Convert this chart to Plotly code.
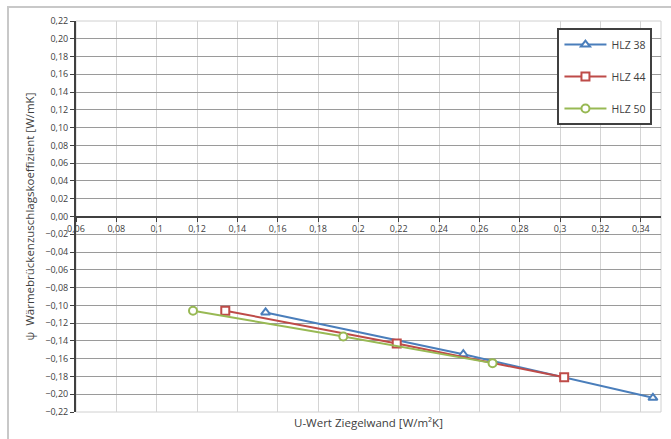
import plotly.graph_objects as go

series_names = ["HLZ 38", "HLZ 44", "HLZ 50"]
u_values = [
    [0.154, 0.252, 0.346],
    [0.134, 0.219, 0.302],
    [0.118, 0.1925, 0.2665],
]
psi_values = [
    [-0.108, -0.155, -0.204],
    [-0.106, -0.143, -0.181],
    [-0.106, -0.135, -0.165],
]
colors = ["#4a7ebb", "#be4b48", "#98b954"]
symbols = ["triangle-up", "square", "circle"]

x_tickvals = [0.06, 0.08, 0.10, 0.12, 0.14, 0.16, 0.18, 0.20, 0.22, 0.24, 0.26, 0.28, 0.30, 0.32, 0.34]
x_ticktext = ["0,06", "0,08", "0,1", "0,12", "0,14", "0,16", "0,18", "0,2", "0,22", "0,24", "0,26", "0,28", "0,3", "0,32", "0,34"]

fig = go.Figure()
for i, name in enumerate(series_names):
    fig.add_trace(go.Scatter(
        x=u_values[i], y=psi_values[i], name=name, mode="lines+markers",
        line=dict(color=colors[i], width=2),
        marker=dict(symbol=symbols[i], size=8, color="white",
                    line=dict(color=colors[i], width=2)),
        legendgroup=name,
    ))

fam = "Open Sans, Liberation Sans, sans-serif"
font = dict(family=fam, size=9, color="#404040")

fig.update_layout(
    width=671, height=439,
    margin=dict(l=76, r=10, t=21, b=27),
    paper_bgcolor="white", plot_bgcolor="white",
    separators=",.",
    font=font,
    showlegend=True,
    legend=dict(x=0.823, y=0.982, xanchor="left", yanchor="top",
                bordercolor="#404040", borderwidth=2, bgcolor="white",
                font=dict(family=fam, size=10.5, color="#404040"),
                tracegroupgap=13, itemwidth=42),
    xaxis=dict(range=[0.06, 0.35], tickvals=x_tickvals, ticktext=x_ticktext,
               showgrid=True, gridcolor="#d4d4d4", gridwidth=1,
               showline=True, linecolor="#404040", linewidth=2,
               anchor="free", position=0.5,
               ticks="outside", ticklen=4, tickcolor="#404040",
               zeroline=False, tickfont=font),
    yaxis=dict(range=[-0.22, 0.22], dtick=0.02, tick0=0, tickformat=".2f",
               showgrid=True, gridcolor="#9a9a9a", gridwidth=1,
               showline=True, linecolor="#404040", linewidth=2,
               ticks="outside", ticklen=4, tickcolor="#404040",
               zeroline=False, tickfont=font,
               title=dict(text="ψ  Wärmebrückenzuschlagskoeffizient [W/mK]",
                          font=dict(family=fam, size=11.5, color="#404040"),
                          standoff=8)),
)

fig.add_annotation(text="U-Wert Ziegelwand [W/m²K]", xref="paper", yref="paper",
                   x=0.5, y=-0.002, yanchor="top", showarrow=False,
                   font=dict(family=fam, size=11.5, color="#404040"))

# plot area border and outer chart frame
fig.add_shape(type="rect", xref="paper", yref="paper", x0=0, y0=0, x1=1, y1=1,
              line=dict(color="#d0d0d0", width=1), layer="below")
fig.add_shape(type="rect", xref="paper", yref="paper",
              x0=-68/585, y0=-40/391, x1=1.05, y1=1 + 14/391,
              line=dict(color="#c8c8c8", width=2), layer="below")

fig.write_html("out.html")
